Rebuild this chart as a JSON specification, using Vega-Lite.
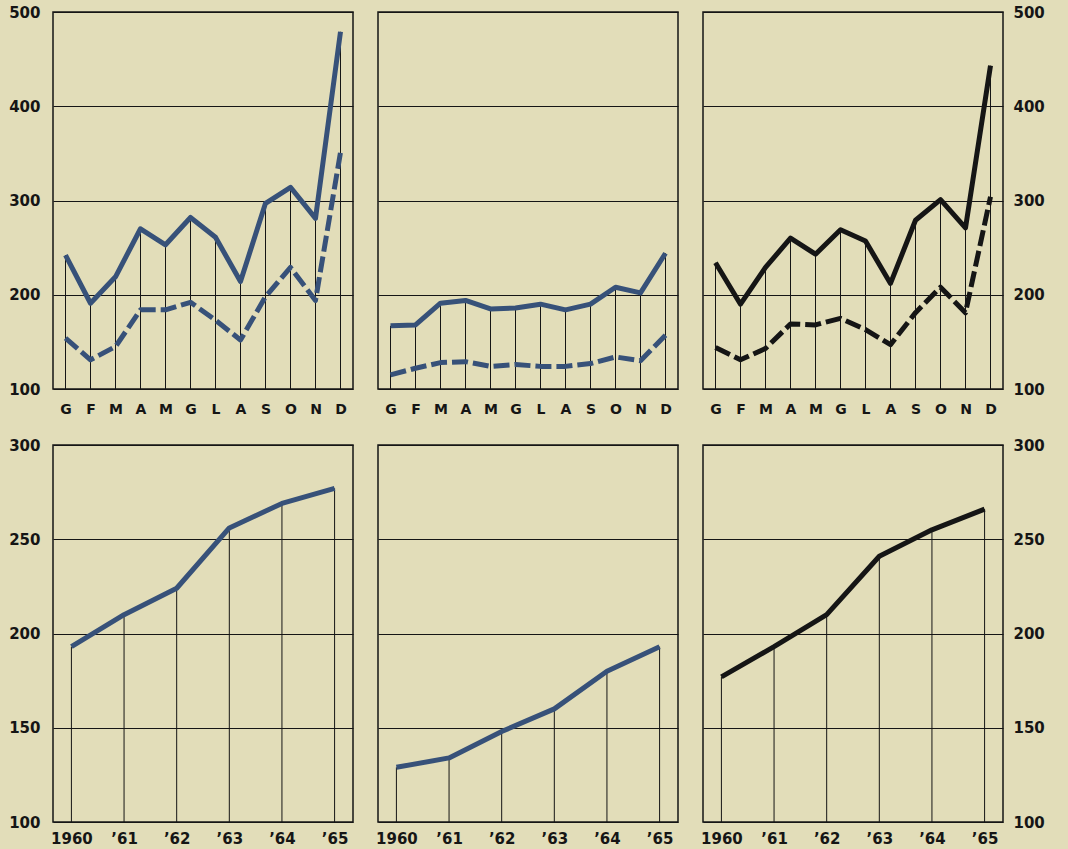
{
  "$schema": "https://vega.github.io/schema/vega-lite/v6.json",
  "background": "#e2ddb9",
  "padding": {"left": 7, "top": 4, "right": 30, "bottom": 5},
  "config": {
    "view": {"stroke": "#151515", "strokeWidth": 1.5},
    "concat": {"spacing": 23},
    "axis": {
      "domain": false, "ticks": false, "title": null,
      "labelFont": "DejaVu Sans", "labelFontWeight": "bold", "labelFontSize": 15, "labelColor": "#151515",
      "gridColor": "#151515", "gridWidth": 1, "gridOpacity": 1
    }
  },
  "datasets": {
    "mesi": [
      {"panel": "sx", "mese": "Gen", "a": 242, "b": 154},
      {"panel": "sx", "mese": "Feb", "a": 191, "b": 131},
      {"panel": "sx", "mese": "Mar", "a": 219, "b": 145},
      {"panel": "sx", "mese": "Apr", "a": 270, "b": 184},
      {"panel": "sx", "mese": "Mag", "a": 253, "b": 184},
      {"panel": "sx", "mese": "Giu", "a": 282, "b": 192},
      {"panel": "sx", "mese": "Lug", "a": 261, "b": 173},
      {"panel": "sx", "mese": "Ago", "a": 214, "b": 152},
      {"panel": "sx", "mese": "Set", "a": 297, "b": 198},
      {"panel": "sx", "mese": "Ott", "a": 314, "b": 229},
      {"panel": "sx", "mese": "Nov", "a": 281, "b": 194},
      {"panel": "sx", "mese": "Dic", "a": 479, "b": 351},
      {"panel": "cx", "mese": "Gen", "a": 167, "b": 115},
      {"panel": "cx", "mese": "Feb", "a": 168, "b": 122},
      {"panel": "cx", "mese": "Mar", "a": 191, "b": 128},
      {"panel": "cx", "mese": "Apr", "a": 194, "b": 129},
      {"panel": "cx", "mese": "Mag", "a": 185, "b": 124},
      {"panel": "cx", "mese": "Giu", "a": 186, "b": 126},
      {"panel": "cx", "mese": "Lug", "a": 190, "b": 124},
      {"panel": "cx", "mese": "Ago", "a": 184, "b": 124},
      {"panel": "cx", "mese": "Set", "a": 190, "b": 127},
      {"panel": "cx", "mese": "Ott", "a": 208, "b": 134},
      {"panel": "cx", "mese": "Nov", "a": 202, "b": 130},
      {"panel": "cx", "mese": "Dic", "a": 244, "b": 157},
      {"panel": "dx", "mese": "Gen", "a": 234, "b": 144},
      {"panel": "dx", "mese": "Feb", "a": 190, "b": 131},
      {"panel": "dx", "mese": "Mar", "a": 229, "b": 143},
      {"panel": "dx", "mese": "Apr", "a": 260, "b": 169},
      {"panel": "dx", "mese": "Mag", "a": 243, "b": 168},
      {"panel": "dx", "mese": "Giu", "a": 269, "b": 175},
      {"panel": "dx", "mese": "Lug", "a": 257, "b": 163},
      {"panel": "dx", "mese": "Ago", "a": 212, "b": 147},
      {"panel": "dx", "mese": "Set", "a": 279, "b": 181},
      {"panel": "dx", "mese": "Ott", "a": 301, "b": 208},
      {"panel": "dx", "mese": "Nov", "a": 271, "b": 181},
      {"panel": "dx", "mese": "Dic", "a": 443, "b": 304}
    ],
    "anni": [
      {"panel": "sx", "anno": "1960", "v": 193},
      {"panel": "sx", "anno": "’61", "v": 210},
      {"panel": "sx", "anno": "’62", "v": 224},
      {"panel": "sx", "anno": "’63", "v": 256},
      {"panel": "sx", "anno": "’64", "v": 269},
      {"panel": "sx", "anno": "’65", "v": 277},
      {"panel": "cx", "anno": "1960", "v": 129},
      {"panel": "cx", "anno": "’61", "v": 134},
      {"panel": "cx", "anno": "’62", "v": 148},
      {"panel": "cx", "anno": "’63", "v": 160},
      {"panel": "cx", "anno": "’64", "v": 180},
      {"panel": "cx", "anno": "’65", "v": 193},
      {"panel": "dx", "anno": "1960", "v": 177},
      {"panel": "dx", "anno": "’61", "v": 193},
      {"panel": "dx", "anno": "’62", "v": 210},
      {"panel": "dx", "anno": "’63", "v": 241},
      {"panel": "dx", "anno": "’64", "v": 255},
      {"panel": "dx", "anno": "’65", "v": 266}
    ]
  },
  "spacing": 20,
  "vconcat": [
    {
      "hconcat": [
        {
          "width": 300, "height": 377,
          "data": {"name": "mesi"},
          "transform": [{"filter": "datum.panel === 'sx'"}],
          "encoding": {"x": {"field": "mese", "type": "ordinal", "sort": ["Gen","Feb","Mar","Apr","Mag","Giu","Lug","Ago","Set","Ott","Nov","Dic"], "scale": {"type": "point", "padding": 0.5}, "axis": {"labelExpr": "substring(datum.label, 0, 1)", "labelAngle": 0, "labelFontSize": 14, "labelPadding": 13}}},
          "layer": [
            {"mark": {"type": "rule", "color": "#151515", "strokeWidth": 1}, "encoding": {"y": {"field": "a", "type": "quantitative", "scale": {"domain": [100, 500], "nice": false, "zero": false}, "axis": {"values": [100, 200, 300, 400, 500], "grid": true, "labelPadding": 13}}, "y2": {"datum": 100}}},
            {"mark": {"type": "line", "color": "#375179", "strokeWidth": 5, "strokeDash": [16, 5], "strokeJoin": "round"}, "encoding": {"y": {"field": "b", "type": "quantitative", "axis": {"values": [100, 200, 300, 400, 500], "grid": true, "labelPadding": 13}}}},
            {"mark": {"type": "line", "color": "#375179", "strokeWidth": 5, "strokeJoin": "round"}, "encoding": {"y": {"field": "a", "type": "quantitative", "axis": {"values": [100, 200, 300, 400, 500], "grid": true, "labelPadding": 13}}}}
          ]
        },
        {
          "width": 300, "height": 377,
          "data": {"name": "mesi"},
          "transform": [{"filter": "datum.panel === 'cx'"}],
          "encoding": {"x": {"field": "mese", "type": "ordinal", "sort": ["Gen","Feb","Mar","Apr","Mag","Giu","Lug","Ago","Set","Ott","Nov","Dic"], "scale": {"type": "point", "padding": 0.5}, "axis": {"labelExpr": "substring(datum.label, 0, 1)", "labelAngle": 0, "labelFontSize": 14, "labelPadding": 13}}},
          "layer": [
            {"mark": {"type": "rule", "color": "#151515", "strokeWidth": 1}, "encoding": {"y": {"field": "a", "type": "quantitative", "scale": {"domain": [100, 500], "nice": false, "zero": false}, "axis": {"values": [100, 200, 300, 400, 500], "grid": true, "labels": false}}, "y2": {"datum": 100}}},
            {"mark": {"type": "line", "color": "#375179", "strokeWidth": 5, "strokeDash": [16, 5], "strokeJoin": "round"}, "encoding": {"y": {"field": "b", "type": "quantitative", "axis": {"values": [100, 200, 300, 400, 500], "grid": true, "labels": false}}}},
            {"mark": {"type": "line", "color": "#375179", "strokeWidth": 5, "strokeJoin": "round"}, "encoding": {"y": {"field": "a", "type": "quantitative", "axis": {"values": [100, 200, 300, 400, 500], "grid": true, "labels": false}}}}
          ]
        },
        {
          "width": 300, "height": 377,
          "data": {"name": "mesi"},
          "transform": [{"filter": "datum.panel === 'dx'"}],
          "encoding": {"x": {"field": "mese", "type": "ordinal", "sort": ["Gen","Feb","Mar","Apr","Mag","Giu","Lug","Ago","Set","Ott","Nov","Dic"], "scale": {"type": "point", "padding": 0.5}, "axis": {"labelExpr": "substring(datum.label, 0, 1)", "labelAngle": 0, "labelFontSize": 14, "labelPadding": 13}}},
          "layer": [
            {"mark": {"type": "rule", "color": "#151515", "strokeWidth": 1}, "encoding": {"y": {"field": "a", "type": "quantitative", "scale": {"domain": [100, 500], "nice": false, "zero": false}, "axis": {"orient": "right", "values": [100, 200, 300, 400, 500], "grid": true, "labelPadding": 10}}, "y2": {"datum": 100}}},
            {"mark": {"type": "line", "color": "#151515", "strokeWidth": 5, "strokeDash": [16, 5], "strokeJoin": "round"}, "encoding": {"y": {"field": "b", "type": "quantitative", "axis": {"orient": "right", "values": [100, 200, 300, 400, 500], "grid": true, "labelPadding": 10}}}},
            {"mark": {"type": "line", "color": "#151515", "strokeWidth": 5, "strokeJoin": "round"}, "encoding": {"y": {"field": "a", "type": "quantitative", "axis": {"orient": "right", "values": [100, 200, 300, 400, 500], "grid": true, "labelPadding": 10}}}}
          ]
        }
      ]
    },
    {
      "spacing": 20,
      "hconcat": [
        {
          "width": 300, "height": 377,
          "data": {"name": "anni"},
          "transform": [{"filter": "datum.panel === 'sx'"}],
          "encoding": {"x": {"field": "anno", "type": "ordinal", "sort": null, "scale": {"type": "point", "padding": 0.35}, "axis": {"labelAngle": 0, "labelPadding": 9}}},
          "layer": [
            {"mark": {"type": "rule", "color": "#151515", "strokeWidth": 1}, "encoding": {"y": {"field": "v", "type": "quantitative", "scale": {"domain": [100, 300], "nice": false, "zero": false}, "axis": {"values": [100, 150, 200, 250, 300], "grid": true, "labelPadding": 13}}, "y2": {"datum": 100}}},
            {"mark": {"type": "line", "color": "#375179", "strokeWidth": 5, "strokeJoin": "round"}, "encoding": {"y": {"field": "v", "type": "quantitative", "axis": {"values": [100, 150, 200, 250, 300], "grid": true, "labelPadding": 13}}}}
          ]
        },
        {
          "width": 300, "height": 377,
          "data": {"name": "anni"},
          "transform": [{"filter": "datum.panel === 'cx'"}],
          "encoding": {"x": {"field": "anno", "type": "ordinal", "sort": null, "scale": {"type": "point", "padding": 0.35}, "axis": {"labelAngle": 0, "labelPadding": 9}}},
          "layer": [
            {"mark": {"type": "rule", "color": "#151515", "strokeWidth": 1}, "encoding": {"y": {"field": "v", "type": "quantitative", "scale": {"domain": [100, 300], "nice": false, "zero": false}, "axis": {"values": [100, 150, 200, 250, 300], "grid": true, "labels": false}}, "y2": {"datum": 100}}},
            {"mark": {"type": "line", "color": "#375179", "strokeWidth": 5, "strokeJoin": "round"}, "encoding": {"y": {"field": "v", "type": "quantitative", "axis": {"values": [100, 150, 200, 250, 300], "grid": true, "labels": false}}}}
          ]
        },
        {
          "width": 300, "height": 377,
          "data": {"name": "anni"},
          "transform": [{"filter": "datum.panel === 'dx'"}],
          "encoding": {"x": {"field": "anno", "type": "ordinal", "sort": null, "scale": {"type": "point", "padding": 0.35}, "axis": {"labelAngle": 0, "labelPadding": 9}}},
          "layer": [
            {"mark": {"type": "rule", "color": "#151515", "strokeWidth": 1}, "encoding": {"y": {"field": "v", "type": "quantitative", "scale": {"domain": [100, 300], "nice": false, "zero": false}, "axis": {"orient": "right", "values": [100, 150, 200, 250, 300], "grid": true, "labelPadding": 10}}, "y2": {"datum": 100}}},
            {"mark": {"type": "line", "color": "#151515", "strokeWidth": 5, "strokeJoin": "round"}, "encoding": {"y": {"field": "v", "type": "quantitative", "axis": {"orient": "right", "values": [100, 150, 200, 250, 300], "grid": true, "labelPadding": 10}}}}
          ]
        }
      ]
    }
  ]
}
